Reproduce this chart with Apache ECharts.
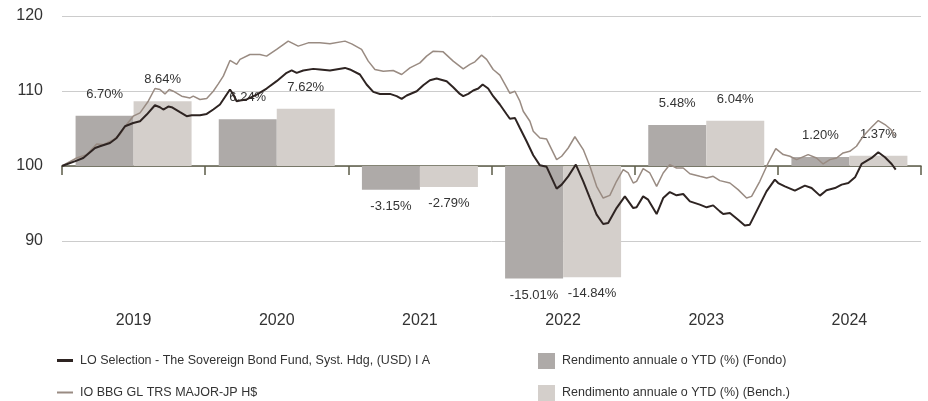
<!DOCTYPE html>
<html>
<head>
<meta charset="utf-8">
<script src="https://cdn.jsdelivr.net/npm/echarts@6/dist/echarts.min.js"></script>
<style>
  html, body { margin: 0; padding: 0; background: #fff; }
  #chart { width: 928px; height: 401px; }
</style>
</head>
<body>
<div id="chart"></div>
<script>
const years = ["2019", "2020", "2021", "2022", "2023", "2024"];
const fundReturns = [6.70, 6.24, -3.15, -15.01, 5.48, 1.20];
const benchReturns = [8.64, 7.62, -2.79, -14.84, 6.04, 1.37];
const yTicks = [90, 100, 110, 120];

// [months since start of 2019, index value]
const fundLine = [
  [0,100],[1.23,100.72],[1.78,101.07],[2.77,102.4],[3.18,102.63],[4.02,103.07],[4.58,103.74],[5.28,105.3],[5.97,105.74],[6.54,105.97],
  [7.1,106.86],[7.79,108.1],[8.21,107.84],[8.49,107.53],[8.91,107.93],[9.19,107.84],[9.89,107.17],[10.45,106.64],[10.87,106.77],[11.56,106.77],
  [12.13,106.94],[12.68,107.53],[13.24,108.2],[14.08,110.2],[14.36,109.53],[14.64,108.64],[14.92,108.73],[15.48,108.87],[16.32,109.53],[17.15,110.33],
  [17.99,111.31],[18.83,112.42],[19.25,112.74],[19.67,112.42],[20.22,112.74],[21.06,112.95],[21.62,112.87],[22.46,112.74],[23.72,113.08],[24.13,112.87],
  [24.97,112.2],[25.53,110.87],[26.09,109.88],[26.65,109.61],[27.49,109.61],[28.05,109.31],[28.47,108.95],[28.89,109.4],[29.73,109.97],[30.28,110.77],
  [30.84,111.44],[31.4,111.67],[32.24,111.31],[32.79,110.51],[33.35,109.61],[33.63,109.31],[34.05,109.61],[34.47,110.07],[34.89,110.33],[35.26,110.87],
  [35.72,110.33],[36.14,109.31],[36.7,108.2],[37.27,106.9],[37.54,106.3],[37.96,106.41],[38.38,105.07],[38.94,103.3],[39.5,101.43],[40.06,100.09],
  [40.62,99.89],[41.46,96.98],[41.88,97.52],[42.43,98.62],[43.07,100.19],[43.69,97.96],[44.25,95.73],[44.81,93.51],[45.36,92.26],[45.78,92.39],
  [46.48,94.39],[47.18,95.95],[47.88,94.39],[48.16,94.49],[48.71,95.95],[49.13,95.51],[49.84,93.59],[50.39,95.73],[50.95,96.53],[51.51,96.09],
  [52.07,96.26],[52.63,95.29],[53.46,94.85],[54.03,94.49],[54.58,94.75],[55.14,93.95],[55.42,93.59],[55.98,93.73],[56.67,92.84],[57.23,92.08],
  [57.65,92.18],[58.21,93.95],[59.05,96.62],[59.75,98.18],[60.03,97.73],[60.59,97.29],[61.43,96.72],[62.27,97.38],[62.83,97.06],[63.53,96.05],
  [64.08,96.76],[64.79,97.06],[65.35,97.52],[65.91,97.73],[66.47,98.49],[67.02,100.27],[67.86,101.07],[68.42,101.83],[68.98,101.16],[69.54,100.27],
  [69.88,99.52]
];

const benchLine = [
  [0,100],[1.23,101.07],[2.07,101.52],[2.91,102.94],[3.46,102.86],[4.3,103.52],[4.86,104.19],[5.42,105.53],[5.97,106.64],[6.54,107.08],
  [7.23,108.64],[7.79,110.33],[8.21,110.2],[8.63,109.61],[8.99,110.2],[9.33,109.97],[10.03,109.31],[10.73,109.08],[11,109.31],[11.56,108.87],
  [12.13,109],[12.68,109.97],[13.1,110.95],[13.52,111.98],[14.08,114.07],[14.64,113.54],[14.92,114.21],[15.75,114.87],[16.59,114.87],[17.15,114.65],
  [17.99,115.54],[18.96,116.65],[19.8,115.98],[20.64,116.42],[21.62,116.42],[22.46,116.29],[23.72,116.65],[24.28,116.29],[25.11,115.54],[25.67,113.98],
  [26.23,112.87],[26.93,112.64],[27.76,112.74],[28.47,112.2],[29.16,113.08],[30,113.75],[30.56,114.65],[31.12,115.31],[31.95,115.22],[32.79,113.98],
  [33.63,112.95],[34.19,113.54],[34.61,113.89],[35.17,114.78],[35.59,114.21],[36.14,112.87],[36.7,112.11],[37.27,110.47],[37.54,109.68],[37.96,109.97],
  [38.38,108.64],[38.66,107.3],[39.22,105.97],[39.5,104.63],[40.06,103.74],[40.62,103.59],[41.46,100.85],[41.88,101.3],[42.43,102.4],[42.99,103.9],
  [43.69,102.19],[44.25,99.96],[44.81,97.29],[45.36,95.73],[45.92,96.09],[46.48,97.96],[47.04,99.52],[47.46,99.07],[47.88,97.73],[48.16,97.96],
  [48.71,99.65],[49.27,99.07],[49.84,97.29],[50.39,99.07],[50.95,100.19],[51.51,99.73],[52.07,99.73],[52.63,98.96],[53.46,98.62],[54.03,98.4],
  [54.58,98.62],[55.14,98.05],[55.98,97.73],[56.67,96.85],[57.38,95.73],[57.8,95.95],[58.49,97.96],[59.19,100.4],[59.83,102.32],[60.45,101.52],
  [61.01,101.3],[61.57,100.85],[62.54,101.52],[63.24,101.07],[63.8,100.27],[64.36,100.85],[64.92,101.07],[65.47,101.74],[66.03,101.96],[66.59,102.63],
  [67.15,103.97],[67.85,105.17],[68.42,106.06],[68.98,105.53],[69.48,104.86],[69.81,103.97]
];

const FONT = "'Liberation Sans', Arial, sans-serif";
const TEXT = "#333333";
const NAME_FUND = "LO Selection - The Sovereign Bond Fund, Syst. Hdg, (USD) I A";
const NAME_BENCH = "IO BBG GL TRS MAJOR-JP H$";
const NAME_BAR_FUND = "Rendimento annuale o YTD (%) (Fondo)";
const NAME_BAR_BENCH = "Rendimento annuale o YTD (%) (Bench.)";

const chart = echarts.init(document.getElementById("chart"), null, { renderer: "canvas" });

const barItems = (vals) => vals.map((v) => ({
  value: v,
  label: v >= 0 ? { position: "top", distance: 15 } : { position: "bottom", distance: 10 },
}));

const barLabel = {
  show: true,
  color: TEXT,
  fontFamily: FONT,
  fontSize: 13,
  formatter: (p) => p.value.toFixed(2) + "%",
};

// grid lines only at the labelled ticks (axis steps by 2 from 82)
const gridColors = [];
for (let v = 82; v <= 120; v += 2) gridColors.push(yTicks.includes(v) ? "#cccccc" : "rgba(0,0,0,0)");

// one legend per entry, placed like the original two-column key
const legendEntry = (name, left, top, icon, w, h) => ({
  show: true,
  left: left,
  top: top,
  padding: 0,
  icon: icon,
  itemWidth: w,
  itemHeight: h,
  data: [name],
  textStyle: { color: TEXT, fontFamily: FONT, fontSize: 12.5, padding: [0, 0, 0, 2] },
});

chart.setOption({
  animation: false,
  backgroundColor: "#ffffff",
  textStyle: { fontFamily: FONT },
  grid: { left: 62, right: 7, top: 16, bottom: 100 },
  legend: [
    legendEntry(NAME_FUND, 57, 354, "rect", 16, 3),
    legendEntry(NAME_BENCH, 57, 386, "rect", 16, 2),
    legendEntry(NAME_BAR_FUND, 538, 353, "rect", 17, 16),
    legendEntry(NAME_BAR_BENCH, 538, 385, "rect", 17, 16),
  ],
  xAxis: [
    {
      type: "category",
      data: years,
      boundaryGap: true,
      axisLine: { lineStyle: { color: "#5c5c48", width: 1.5 } },
      axisTick: { show: true, length: 9, lineStyle: { color: "#5c5c48", width: 1.5 } },
      axisLabel: { color: TEXT, fontFamily: FONT, fontSize: 16, margin: 12 },
      splitLine: { show: false },
    },
    { type: "value", min: 0, max: 72, show: false },
  ],
  yAxis: [
    {
      type: "value",
      min: 82,
      max: 120,
      interval: 2,
      axisLine: { show: false },
      axisTick: { show: false },
      axisLabel: {
        color: TEXT,
        fontFamily: FONT,
        fontSize: 16,
        margin: 19,
        formatter: (v) => (yTicks.includes(v) ? String(v) : ""),
      },
      splitLine: { show: true, lineStyle: { color: gridColors, width: 1 } },
    },
    { type: "value", min: -18, max: 20, show: false },
  ],
  series: [
    {
      name: NAME_BAR_FUND,
      type: "bar",
      xAxisIndex: 0,
      yAxisIndex: 1,
      barWidth: 58,
      barGap: "0%",
      itemStyle: { color: "#aeaaa8" },
      label: barLabel,
      data: barItems(fundReturns),
    },
    {
      name: NAME_BAR_BENCH,
      type: "bar",
      xAxisIndex: 0,
      yAxisIndex: 1,
      barWidth: 58,
      barGap: "0%",
      itemStyle: { color: "#d4cfcb" },
      label: barLabel,
      data: barItems(benchReturns),
    },
    {
      name: NAME_BENCH,
      type: "line",
      xAxisIndex: 1,
      yAxisIndex: 0,
      symbol: "none",
      lineStyle: { color: "#998b82", width: 1.5 },
      itemStyle: { color: "#998b82" },
      data: benchLine,
    },
    {
      name: NAME_FUND,
      type: "line",
      xAxisIndex: 1,
      yAxisIndex: 0,
      symbol: "none",
      lineStyle: { color: "#2e2422", width: 2 },
      itemStyle: { color: "#2e2422" },
      data: fundLine,
    },
  ],
});
</script>
</body>
</html>
